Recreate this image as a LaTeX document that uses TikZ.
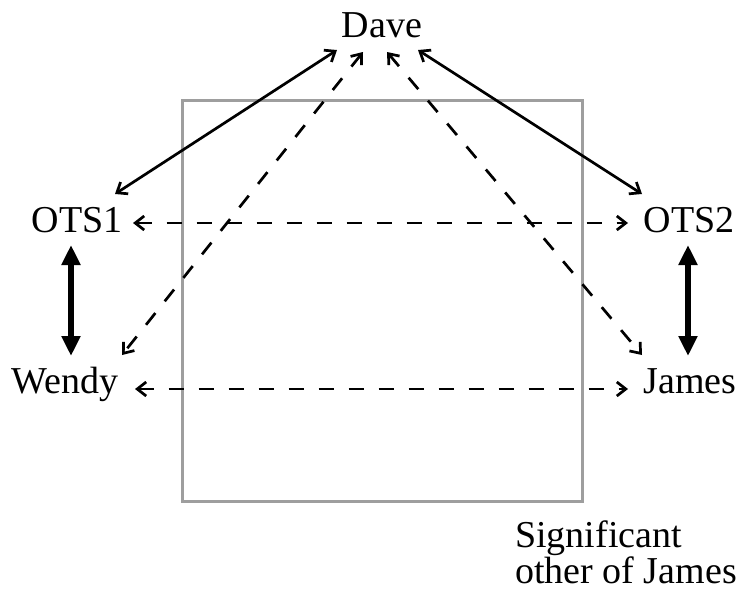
\documentclass[tikz,border=0pt]{standalone}
\usepackage{fontspec}
\setmainfont{Liberation Serif}
\usetikzlibrary{arrows.meta}

\begin{document}
\begin{tikzpicture}[
        x=1pt, y=-1pt,
        lbl/.style={anchor=base, inner sep=0pt, font=\fontsize{38}{33}\selectfont},
        rel/.style={{Straight Barb[length=9pt,width=14pt]}-{Straight Barb[length=9pt,width=14pt]}, line width=2.7pt},
        guess/.style={rel, dash pattern=on 15pt off 15pt},
        strong/.style={{Triangle[length=20pt,width=18pt]}-{Triangle[length=20pt,width=18pt]}, line width=5.5pt},
        frame/.style={draw=black!38, line width=3pt}
    ]
    \useasboundingbox (0,0) rectangle (753,605);
    % boundary of the significant other
    \draw[frame] (182,100) rectangle (582,501);
    \node[lbl] (dave) at (382,37) {Dave};
    \node[lbl] (ots1) at (77,232) {OTS1};
    \node[lbl] (ots2) at (689,232) {OTS2};
    \node[lbl] (wendy) at (65,393) {Wendy};
    \node[lbl] (james) at (690,393) {James};
    \node[lbl, anchor=base west, align=left] (note) at (515,583) {Significant\\other of James};
    % known links
    \draw[rel] ([shift={(-45,13)}]dave.base) -- ([shift={(38,-38)}]ots1.base);
    \draw[rel] ([shift={(36,13)}]dave.base) -- ([shift={(-47,-38)}]ots2.base);
    % guessed links
    \draw[guess] ([shift={(-19,15)}]dave.base) -- ([shift={(57,-38)}]wendy.base);
    \draw[guess] ([shift={(5,15)}]dave.base) -- ([shift={(-48,-38)}]james.base);
    \draw[guess] ([shift={(56,-9)}]ots1.base) -- ([shift={(-61,-9)}]ots2.base);
    \draw[guess] ([shift={(70,-4)}]wendy.base) -- ([shift={(-62,-4)}]james.base);
    % strong ties
    \draw[strong] ([shift={(-6,13)}]ots1.base) -- ([shift={(6,-37)}]wendy.base);
    \draw[strong] ([shift={(-1,13)}]ots2.base) -- ([shift={(-2,-37)}]james.base);
\end{tikzpicture}
\end{document}
